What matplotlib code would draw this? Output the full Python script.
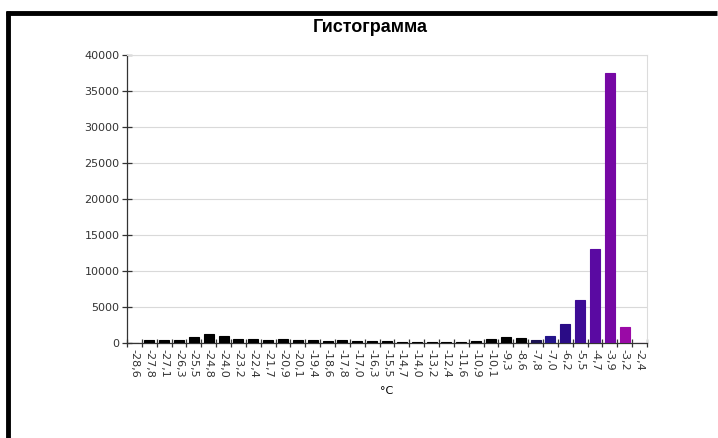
import numpy as np
import matplotlib
matplotlib.use("Agg")
import matplotlib.pyplot as plt
from matplotlib.lines import Line2D

# Категории (границы интервалов температуры) и частоты
labels = ["-28,6", "-27,8", "-27,1", "-26,3", "-25,5", "-24,8", "-24,0", "-23,2",
          "-22,4", "-21,7", "-20,9", "-20,1", "-19,4", "-18,6", "-17,8", "-17,0",
          "-16,3", "-15,5", "-14,7", "-14,0", "-13,2", "-12,4", "-11,6", "-10,9",
          "-10,1", "-9,3", "-8,6", "-7,8", "-7,0", "-6,2", "-5,5", "-4,7",
          "-3,9", "-3,2", "-2,4"]
counts = [0, 430, 430, 380, 860, 1290, 1000, 520,
          570, 430, 520, 430, 480, 330, 430, 330,
          330, 330, 100, 100, 100, 200, 200, 240,
          620, 810, 670, 480, 950, 2700, 5950, 13100,
          37500, 2200, 60]
colors = ["#000000"] * 27 + ["#1c1252", "#24148a", "#2a0c86", "#3e0c96",
                             "#5a0aa2", "#7608a4", "#9a0aa6", "#a80aa8"]

fig = plt.figure(figsize=(7.18, 4.38), dpi=100)
ax = fig.add_axes([0.1769, 0.2169, 0.7242, 0.6575])

x = np.arange(len(labels))
ax.bar(x, counts, width=0.67, color=colors, edgecolor=colors, linewidth=0.8, zorder=3)

ax.set_xlim(-0.5, len(labels) - 0.5)
ax.set_ylim(0, 40000)
ax.set_yticks(np.arange(0, 40001, 5000))
ax.set_yticklabels([str(v) for v in range(0, 40001, 5000)], fontsize=8, color="#333333")
ax.yaxis.grid(True, color="#d9d9d9", linewidth=0.8, zorder=0)

ax.set_xticks(x)
ax.set_xticklabels(labels, rotation=-90, fontsize=8, color="#333333")
ax.set_xticks(np.arange(-0.5, len(labels)), minor=True)
ax.tick_params(axis="x", which="major", length=0, pad=4)
ax.tick_params(axis="x", which="minor", length=6, direction="inout", width=0.9, color="#333333")
ax.tick_params(axis="y", length=7, direction="inout", width=0.9, color="#333333", pad=2)

for s in ["top", "right"]:
    ax.spines[s].set_color("#dcdcdc")
    ax.spines[s].set_linewidth(0.8)
for s in ["left", "bottom"]:
    ax.spines[s].set_color("#333333")
    ax.spines[s].set_linewidth(0.9)

ax.set_xlabel("°C", fontsize=8, labelpad=6)

fig.text(0.515, 0.938, "Гистограмма", ha="center", va="center",
         fontsize=13, fontweight="bold", family="Liberation Sans")

# рамка слева и сверху
fig.add_artist(Line2D([8 / 718, 8 / 718], [0, 1 - 11.3 / 438], color="black", linewidth=3.5,
                      solid_capstyle="butt", transform=fig.transFigure))
fig.add_artist(Line2D([6.3 / 718, 717 / 718], [1 - 13 / 438, 1 - 13 / 438], color="black",
                      linewidth=3.5, solid_capstyle="butt", transform=fig.transFigure))

fig.savefig("out.png", dpi=100)
